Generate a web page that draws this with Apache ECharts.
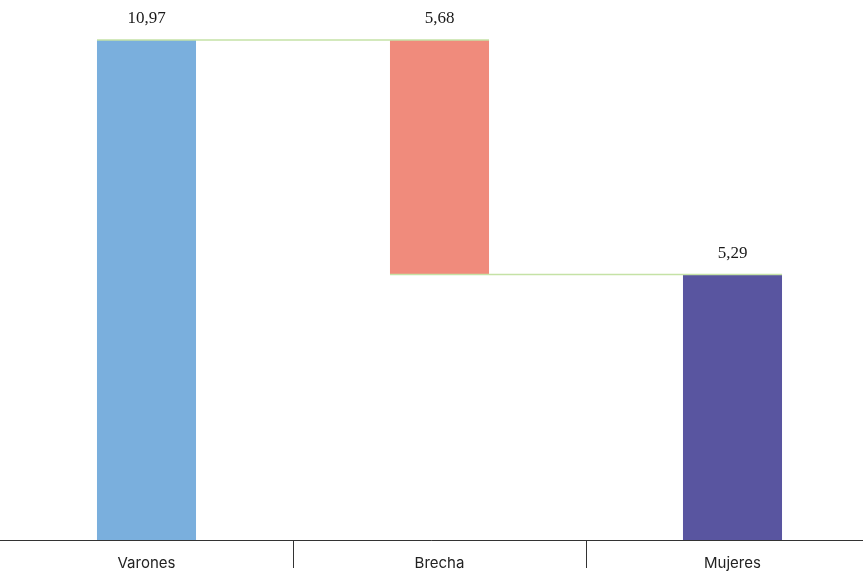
<!DOCTYPE html>
<html>
<head>
<meta charset="utf-8">
<script src="https://cdn.jsdelivr.net/npm/echarts@6/dist/echarts.min.js"></script>
<style>
  html, body { margin: 0; padding: 0; background: #ffffff; }
  #chart { width: 863px; height: 572px; }
</style>
</head>
<body>
<div id="chart"></div>
<script>
// Waterfall: men's value, the gap, women's value
const categories = ['Varones', 'Brecha', 'Mujeres'];
const values = [10.97, 5.68, 5.29];
const barColors = ['#7aafdd', '#f08b7c', '#5955a0'];

// value axis range (the bars rest on the axis floor)
const axisMin = -1.142;
const axisMax = 10.97;

// [category index, low, high, shown value]
const bars = [
  [0, axisMin, values[0], values[0]],
  [1, values[0] - values[1], values[0], values[1]],
  [2, axisMin, values[2], values[2]]
];
// connector lines: [from category, to category, level]
const connectors = [
  [0, 1, values[0]],
  [1, 2, values[2]]
];

const fmt = v => v.toFixed(2).replace('.', ',');
const BAR_RATIO = 0.338;

const chart = echarts.init(document.getElementById('chart'), null, { renderer: 'canvas' });
chart.setOption({
  animation: false,
  backgroundColor: '#ffffff',
  grid: { left: 0, right: -16, top: 40, bottom: 32, outerBoundsMode: 'none', containLabel: false },
  xAxis: {
    type: 'category',
    data: categories,
    boundaryGap: true,
    axisLine: { onZero: false, lineStyle: { color: '#333333', width: 1 } },
    axisTick: {
      show: true,
      length: 28,
      interval: function (index) { return index > 0; },
      lineStyle: { color: '#333333', width: 1 }
    },
    axisLabel: { margin: 16, fontFamily: 'Inter, Roboto, sans-serif', fontSize: 15, color: '#222222' },
    splitLine: { show: false }
  },
  yAxis: {
    type: 'value',
    min: axisMin,
    max: axisMax,
    show: false,
    splitLine: { show: false }
  },
  series: [
    {
      type: 'custom',
      data: connectors,
      encode: { x: [0, 1], y: 2 },
      z: 3,
      renderItem: function (params, api) {
        const w = api.size([1, 0])[0] * BAR_RATIO;
        const p0 = api.coord([api.value(0), api.value(2)]);
        const p1 = api.coord([api.value(1), api.value(2)]);
        return {
          type: 'line',
          shape: { x1: p0[0] - w / 2, y1: p0[1], x2: p1[0] + w / 2, y2: p1[1] },
          style: { stroke: '#c5e2a6', lineWidth: 1.5 }
        };
      }
    },
    {
      type: 'custom',
      data: bars,
      encode: { x: 0, y: [1, 2] },
      z: 2,
      renderItem: function (params, api) {
        const idx = api.value(0);
        const w = api.size([1, 0])[0] * BAR_RATIO;
        const top = api.coord([idx, api.value(2)]);
        const bottom = api.coord([idx, api.value(1)]);
        return {
          type: 'group',
          children: [
            {
              type: 'rect',
              shape: { x: top[0] - w / 2, y: top[1], width: w, height: bottom[1] - top[1] },
              style: { fill: barColors[idx] }
            },
            {
              type: 'text',
              style: {
                x: top[0],
                y: top[1] - 21,
                text: fmt(api.value(3)),
                textAlign: 'center',
                textVerticalAlign: 'middle',
                font: '17px "Liberation Serif", "DejaVu Serif", serif',
                fill: '#1a1a1a'
              }
            }
          ]
        };
      }
    }
  ]
});
</script>
</body>
</html>
